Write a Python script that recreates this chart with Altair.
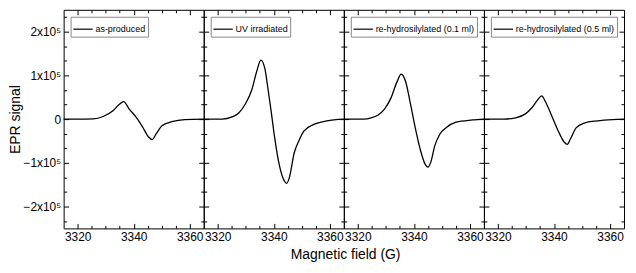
import altair as alt
import pandas as pd

# ---- data ----
panel_names = [
    "as-produced",
    "UV irradiated",
    "re-hydrosilylated (0.1 ml)",
    "re-hydrosilylated (0.5 ml)",
]

field_1 = [3315, 3320, 3325.6, 3329.1, 3332.6, 3334.9, 3336.4, 3338.4, 3340.8,
           3343.1, 3345.2, 3346.6, 3348.0, 3350.1, 3353.6, 3358.2, 3365]
signal_1 = [0, 0, 500, 6000, 19000, 34000, 40000, 23000, 5000,
            -17000, -40000, -47000, -34000, -15000, -6000, -1000, 0]

field_2 = [3315, 3321.6, 3325.1, 3327.5, 3329.8, 3332.1, 3333.9, 3335.4, 3336.8,
           3338.0, 3339.1, 3340.3, 3342.0, 3343.8, 3344.6, 3345.5, 3347.3,
           3349.0, 3350.8, 3354.3, 3358.9, 3365]
signal_2 = [0, 0, 5000, 14000, 34000, 66000, 109000, 135000, 116000,
            66000, 16000, -42000, -106000, -142000, -147000, -135000, -77000,
            -49000, -27000, -12000, -4000, 0]

field_3 = [3315, 3322, 3324.8, 3327.1, 3329.5, 3331.8, 3333.9, 3335.5, 3337.0,
           3338.8, 3340.5, 3342.3, 3344.0, 3345.0, 3346.0, 3347.5, 3349.3,
           3351.6, 3355.1, 3360.9, 3365]
signal_3 = [0, 0, 3000, 9000, 23000, 48000, 84000, 103000, 87000,
            34000, -20000, -70000, -103000, -110000, -99000, -60000, -34000,
            -19000, -7000, -2000, 0]

field_4 = [3315, 3322, 3326.3, 3329.8, 3332.1, 3334.2, 3335.6, 3337.0, 3339.1,
           3341.5, 3343.6, 3344.7, 3345.9, 3347.9, 3350.8, 3355.4, 3360.9, 3365]
signal_4 = [0, 0, 3000, 12000, 26000, 44000, 53000, 39000, 9000,
            -27000, -52000, -58000, -45000, -20000, -9000, -4000, -1000, 0]

x_major = [3320, 3340, 3360]
x_minor = [3325, 3330, 3335, 3345, 3350, 3355]
y_major = [-200000, -100000, 0, 100000, 200000]
y_minor = [-233333, -166667, -133333, -66667, -33333,
           33333, 66667, 133333, 166667, 233333]

FONT = "Liberation Sans"
PW, PH = 141, 220

x_scale = alt.Scale(domain=[3315, 3365], nice=False, zero=False)
y_scale = alt.Scale(domain=[-250000, 250000], nice=False, zero=False)


def x_axis(orient, values, size, labels):
    kw = dict(orient=orient, values=values, tickSize=size, offset=-size,
              domain=False, grid=False, labels=labels, ticks=True,
              tickColor="black", tickWidth=1)
    if labels:
        kw.update(labelPadding=3, format="d", labelFontSize=12,
                  labelColor="black", labelFont=FONT)
    return alt.Axis(**kw)


def y_axis(orient, values, size, labels, with_title=False):
    kw = dict(orient=orient, values=values, tickSize=size, offset=-size,
              domain=False, grid=False, labels=labels, ticks=True,
              tickColor="black", tickWidth=1)
    if labels:
        kw.update(labelPadding=3, labelFontSize=12, labelColor="black",
                  labelFont=FONT,
                  labelExpr="datum.value == 0 ? '0' : format(datum.value / 100000, 'd') + 'x10⁵'")
    if with_title:
        kw.update(titleFontSize=14, titleFontWeight="normal", titleFont=FONT,
                  titleColor="black", titlePadding=0)
    return alt.Axis(**kw)


def panel(name, fx, sy, first):
    df = pd.DataFrame({"field": fx, "signal": sy, "sample": name})
    base = alt.Chart(df)

    main = base.mark_line(strokeWidth=1.3, interpolate="monotone").encode(
        x=alt.X("field:Q", scale=x_scale, axis=x_axis("bottom", x_major, 5, True), title=None),
        y=alt.Y("signal:Q", scale=y_scale,
                axis=y_axis("left", y_major, 5, first, with_title=first),
                title="EPR signal" if first else None),
        color=alt.Color("sample:N", scale=alt.Scale(range=["black"]),
                        legend=alt.Legend(orient="top-left", offset=7, title=None,
                                          symbolType="stroke", symbolSize=380,
                                          symbolStrokeWidth=1.2, symbolStrokeColor="black",
                                          labelFontSize=9, labelFont=FONT, labelColor="black",
                                          labelOffset=2, padding=2, strokeColor="#888888",
                                          fillColor="white")),
    )
    minor = base.mark_line(strokeOpacity=0).encode(
        x=alt.X("field:Q", scale=x_scale, axis=x_axis("bottom", x_minor, 3, False), title=None),
        y=alt.Y("signal:Q", scale=y_scale, axis=y_axis("left", y_minor, 3, False), title=None),
    )
    top_major = base.mark_line(strokeOpacity=0).encode(
        x=alt.X("field:Q", scale=x_scale, axis=x_axis("top", x_major, 5, False), title=None),
        y=alt.Y("signal:Q", scale=y_scale, axis=y_axis("right", y_major, 5, False), title=None),
    )
    top_minor = base.mark_line(strokeOpacity=0).encode(
        x=alt.X("field:Q", scale=x_scale, axis=x_axis("top", x_minor, 3, False), title=None),
        y=alt.Y("signal:Q", scale=y_scale, axis=y_axis("right", y_minor, 3, False), title=None),
    )
    return (
        alt.layer(main, minor, top_major, top_minor)
        .resolve_axis(x="independent", y="independent")
        .properties(width=PW, height=PH)
    )


panels = [
    panel(panel_names[0], field_1, signal_1, True),
    panel(panel_names[1], field_2, signal_2, False),
    panel(panel_names[2], field_3, signal_3, False),
    panel(panel_names[3], field_4, signal_4, False),
]

chart = (
    alt.hconcat(*panels, spacing=0, bounds="flush")
    .resolve_scale(color="independent")
    .properties(
        padding={"left": 0, "top": 0, "right": 0, "bottom": 0},
        title=alt.TitleParams("Magnetic field (G)", orient="bottom", anchor="middle",
                              fontSize=14, fontWeight="normal", font=FONT,
                              color="black", dx=28, offset=5),
    )
    .configure_view(stroke="black", strokeWidth=1)
)

chart.save("out.html", embed_options={"renderer": "svg", "actions": False})
